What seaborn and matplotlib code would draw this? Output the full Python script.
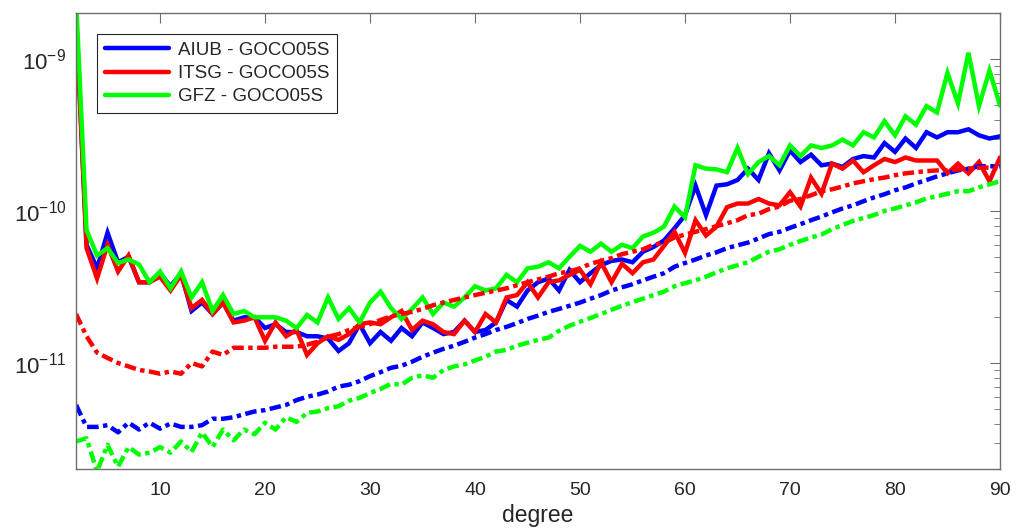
import numpy as np
import pandas as pd
import matplotlib
matplotlib.use("Agg")
import matplotlib.pyplot as plt
import seaborn as sns
from matplotlib.ticker import LogLocator, NullFormatter, FixedLocator

degrees = list(range(2, 91))

aiub_solid = [2.0e-9, 6.0e-11, 4.2e-11, 7.2e-11, 4.6e-11, 5.0e-11, 3.4e-11, 3.4e-11, 3.9e-11, 3.2e-11,
              3.9e-11, 2.2e-11, 2.5e-11, 2.1e-11, 2.5e-11, 1.9e-11, 2.0e-11, 2.0e-11, 1.7e-11, 1.8e-11,
              1.6e-11, 1.6e-11, 1.5e-11, 1.5e-11, 1.45e-11, 1.2e-11, 1.35e-11, 1.8e-11, 1.35e-11, 1.6e-11,
              1.4e-11, 1.7e-11, 1.5e-11, 1.85e-11, 1.7e-11, 1.55e-11, 1.6e-11, 1.9e-11, 1.6e-11, 1.65e-11,
              1.85e-11, 2.6e-11, 2.35e-11, 3.0e-11, 3.4e-11, 3.6e-11, 3.0e-11, 4.1e-11, 3.4e-11, 3.9e-11,
              4.4e-11, 4.7e-11, 4.8e-11, 4.6e-11, 5.4e-11, 5.8e-11, 6.4e-11, 7.7e-11, 9.4e-11, 1.47e-10,
              9.4e-11, 1.47e-10, 1.5e-10, 1.6e-10, 1.9e-10, 1.6e-10, 2.4e-10, 1.85e-10, 2.5e-10, 2.1e-10,
              2.35e-10, 2.0e-10, 2.05e-10, 1.95e-10, 2.2e-10, 2.3e-10, 2.25e-10, 2.8e-10, 2.45e-10, 3.0e-10,
              2.6e-10, 3.3e-10, 3.05e-10, 3.3e-10, 3.3e-10, 3.45e-10, 3.15e-10, 3.0e-10, 3.1e-10]

itsg_solid = [1.9e-9, 5.7e-11, 3.6e-11, 6.0e-11, 4.0e-11, 5.1e-11, 3.4e-11, 3.4e-11, 3.7e-11, 3.0e-11,
              3.8e-11, 2.3e-11, 2.6e-11, 2.1e-11, 2.5e-11, 1.85e-11, 1.9e-11, 2.0e-11, 1.4e-11, 1.85e-11,
              1.5e-11, 1.65e-11, 1.13e-11, 1.35e-11, 1.5e-11, 1.42e-11, 1.55e-11, 1.8e-11, 1.85e-11, 1.8e-11,
              2.0e-11, 2.2e-11, 1.65e-11, 1.9e-11, 1.8e-11, 1.6e-11, 1.55e-11, 1.9e-11, 1.6e-11, 2.1e-11,
              1.85e-11, 2.7e-11, 2.8e-11, 3.4e-11, 2.7e-11, 3.4e-11, 3.5e-11, 3.8e-11, 4.1e-11, 3.3e-11,
              4.6e-11, 3.4e-11, 4.5e-11, 3.9e-11, 4.6e-11, 4.8e-11, 5.9e-11, 7.3e-11, 5.3e-11, 8.7e-11,
              6.9e-11, 7.9e-11, 1.06e-10, 1.12e-10, 1.12e-10, 1.2e-10, 1.12e-10, 1.09e-10, 1.33e-10, 1.07e-10,
              1.66e-10, 1.3e-10, 2.05e-10, 1.9e-10, 2.15e-10, 1.8e-10, 2.0e-10, 2.2e-10, 2.1e-10, 2.25e-10,
              2.15e-10, 2.15e-10, 2.15e-10, 1.77e-10, 2.05e-10, 1.77e-10, 2.1e-10, 1.57e-10, 2.25e-10]

gfz_solid = [2.5e-9, 7.5e-11, 5.1e-11, 5.7e-11, 4.55e-11, 4.8e-11, 4.45e-11, 3.4e-11, 4.0e-11, 3.1e-11,
             4.0e-11, 2.7e-11, 3.4e-11, 2.2e-11, 2.8e-11, 2.1e-11, 2.2e-11, 2.0e-11, 2.0e-11, 2.0e-11,
             1.9e-11, 1.7e-11, 2.07e-11, 1.85e-11, 2.7e-11, 1.95e-11, 2.3e-11, 1.85e-11, 2.5e-11, 2.95e-11,
             2.3e-11, 1.95e-11, 2.27e-11, 2.7e-11, 2.1e-11, 2.5e-11, 2.35e-11, 2.7e-11, 3.2e-11, 3.0e-11,
             3.1e-11, 3.8e-11, 3.4e-11, 4.2e-11, 4.3e-11, 4.6e-11, 4.2e-11, 5.0e-11, 5.9e-11, 5.4e-11,
             6.1e-11, 5.4e-11, 6.0e-11, 5.7e-11, 6.8e-11, 7.2e-11, 7.9e-11, 1.07e-10, 9.1e-11, 2.0e-10,
             1.9e-10, 1.88e-10, 1.8e-10, 2.6e-10, 1.75e-10, 2.1e-10, 2.3e-10, 2.0e-10, 2.7e-10, 2.3e-10,
             2.7e-10, 2.6e-10, 2.7e-10, 2.95e-10, 2.7e-10, 3.3e-10, 3.05e-10, 3.9e-10, 3.15e-10, 4.2e-10,
             3.7e-10, 4.9e-10, 4.45e-10, 8.1e-10, 5.1e-10, 1.1e-9, 4.9e-10, 8.4e-10, 4.95e-10]

itsg_dash = [2.1e-11, 1.5e-11, 1.17e-11, 1.08e-11, 1.0e-11, 9.5e-12, 9.0e-12, 8.8e-12, 8.5e-12, 8.8e-12,
             8.5e-12, 1.0e-11, 9.5e-12, 1.19e-11, 1.13e-11, 1.26e-11, 1.26e-11, 1.26e-11, 1.26e-11, 1.28e-11,
             1.28e-11, 1.28e-11, 1.32e-11, 1.38e-11, 1.49e-11, 1.55e-11, 1.65e-11, 1.73e-11, 1.8e-11, 1.92e-11,
             2.03e-11, 2.1e-11, 2.17e-11, 2.27e-11, 2.4e-11, 2.5e-11, 2.6e-11, 2.7e-11, 2.8e-11, 2.9e-11,
             3.0e-11, 3.1e-11, 3.25e-11, 3.4e-11, 3.55e-11, 3.7e-11, 3.9e-11, 4.0e-11, 4.2e-11, 4.5e-11,
             4.7e-11, 4.9e-11, 5.2e-11, 5.4e-11, 5.6e-11, 6.0e-11, 6.2e-11, 6.7e-11, 7.0e-11, 7.3e-11,
             7.6e-11, 7.95e-11, 8.3e-11, 8.7e-11, 9.4e-11, 9.6e-11, 1.03e-10, 1.07e-10, 1.17e-10, 1.2e-10,
             1.27e-10, 1.35e-10, 1.39e-10, 1.45e-10, 1.52e-10, 1.57e-10, 1.62e-10, 1.66e-10, 1.72e-10, 1.77e-10,
             1.8e-10, 1.83e-10, 1.85e-10, 1.85e-10, 1.88e-10, 1.9e-10, 1.93e-10, 1.93e-10, 1.9e-10]

aiub_dash = [5.3e-12, 3.8e-12, 3.8e-12, 3.9e-12, 3.5e-12, 4.05e-12, 3.65e-12, 4.05e-12, 3.7e-12, 4.0e-12,
             3.8e-12, 3.8e-12, 3.9e-12, 4.3e-12, 4.3e-12, 4.4e-12, 4.6e-12, 4.8e-12, 4.9e-12, 5.1e-12,
             5.3e-12, 5.7e-12, 6.0e-12, 6.2e-12, 6.5e-12, 7.0e-12, 7.2e-12, 7.6e-12, 8.2e-12, 8.7e-12,
             9.3e-12, 9.6e-12, 1.02e-11, 1.1e-11, 1.17e-11, 1.24e-11, 1.3e-11, 1.38e-11, 1.47e-11, 1.55e-11,
             1.65e-11, 1.73e-11, 1.83e-11, 1.95e-11, 2.05e-11, 2.17e-11, 2.27e-11, 2.38e-11, 2.5e-11, 2.65e-11,
             2.8e-11, 3.0e-11, 3.15e-11, 3.3e-11, 3.5e-11, 3.7e-11, 3.9e-11, 4.3e-11, 4.55e-11, 4.8e-11,
             5.1e-11, 5.35e-11, 5.7e-11, 5.95e-11, 6.2e-11, 6.6e-11, 7.05e-11, 7.3e-11, 7.75e-11, 8.2e-11,
             8.7e-11, 9.2e-11, 9.8e-11, 1.04e-10, 1.09e-10, 1.16e-10, 1.23e-10, 1.29e-10, 1.37e-10, 1.43e-10,
             1.52e-10, 1.6e-10, 1.69e-10, 1.77e-10, 1.85e-10, 1.9e-10, 1.97e-10, 1.97e-10, 1.97e-10]

gfz_dash = [3.05e-12, 3.2e-12, 1.93e-12, 2.9e-12, 2.08e-12, 2.8e-12, 2.5e-12, 2.57e-12, 2.8e-12, 2.57e-12,
            3.05e-12, 2.6e-12, 3.5e-12, 2.8e-12, 3.65e-12, 3.1e-12, 3.65e-12, 3.4e-12, 4.05e-12, 3.65e-12,
            4.4e-12, 4.1e-12, 4.7e-12, 4.8e-12, 5.05e-12, 5.2e-12, 5.65e-12, 5.9e-12, 6.35e-12, 6.75e-12,
            7.3e-12, 7.2e-12, 8.0e-12, 8.3e-12, 8.0e-12, 9.0e-12, 9.5e-12, 9.8e-12, 1.04e-11, 1.1e-11,
            1.19e-11, 1.22e-11, 1.3e-11, 1.36e-11, 1.42e-11, 1.47e-11, 1.63e-11, 1.76e-11, 1.87e-11, 1.98e-11,
            2.1e-11, 2.24e-11, 2.38e-11, 2.52e-11, 2.65e-11, 2.8e-11, 2.95e-11, 3.2e-11, 3.35e-11, 3.5e-11,
            3.7e-11, 3.95e-11, 4.2e-11, 4.4e-11, 4.6e-11, 5.0e-11, 5.4e-11, 5.6e-11, 6.0e-11, 6.35e-11,
            6.7e-11, 7.0e-11, 7.6e-11, 8.1e-11, 8.6e-11, 9.0e-11, 9.4e-11, 1.0e-10, 1.04e-10, 1.09e-10,
            1.14e-10, 1.21e-10, 1.25e-10, 1.3e-10, 1.35e-10, 1.35e-10, 1.43e-10, 1.5e-10, 1.57e-10]

labels = ["AIUB - GOCO05S", "ITSG - GOCO05S", "GFZ - GOCO05S"]
colors = ["#0000ff", "#ff0000", "#00ff00"]
xticks = [10, 20, 30, 40, 50, 60, 70, 80, 90]
yticks = [1e-11, 1e-10, 1e-9]

sns.set_style("white")
plt.rcParams["font.family"] = ["Liberation Sans", "DejaVu Sans"]
plt.rcParams["mathtext.fontset"] = "custom"
plt.rcParams["mathtext.rm"] = "Liberation Sans"
plt.rcParams["mathtext.it"] = "Liberation Sans:italic"

fig = plt.figure(figsize=(10.18, 5.29), dpi=100)
ax = fig.add_axes([0.0747, 0.1129, 0.9076, 0.862])

solid_sets = [aiub_solid, itsg_solid, gfz_solid]
dash_sets = [aiub_dash, itsg_dash, gfz_dash]
dash_style = (0, (2.6, 1.0, 1.0, 1.0))

handles = []
for lab, col, ys in zip(labels, colors, solid_sets):
    df = pd.DataFrame({"degree": degrees, "value": ys})
    sns.lineplot(data=df, x="degree", y="value", ax=ax, color=col, lw=3.2,
                 legend=False, solid_joinstyle="miter")
    handles.append(ax.lines[-1])
for lab, col, ys in zip(labels, colors, dash_sets):
    df = pd.DataFrame({"degree": degrees, "value": ys})
    sns.lineplot(data=df, x="degree", y="value", ax=ax, color=col, lw=3.2,
                 legend=False, linestyle=dash_style)

ax.set_yscale("log")
ax.set_xlim(2, 90)
ax.set_ylim(2e-12, 2e-9)
ax.xaxis.set_major_locator(FixedLocator(xticks))
ax.yaxis.set_major_locator(FixedLocator(yticks))
ax.yaxis.set_minor_locator(LogLocator(base=10, subs=np.arange(2, 10), numticks=20))
ax.yaxis.set_minor_formatter(NullFormatter())

axcol = "#6e6e6e"
txtcol = "#262626"
for sp in ax.spines.values():
    sp.set_color(axcol)
    sp.set_linewidth(1.0)
ax.tick_params(axis="both", which="both", direction="in", top=True, right=True,
               colors=axcol, labelcolor=txtcol)
ax.tick_params(axis="x", which="major", length=7, pad=9, labelsize=14)
ax.tick_params(axis="y", which="major", length=7, pad=7, labelsize=16)
ax.tick_params(axis="y", which="minor", length=4)

ax.set_xlabel("degree", fontsize=16.5, color=txtcol, labelpad=4)
ax.set_ylabel("")

leg = ax.legend(handles=handles, labels=labels, loc="upper left",
                bbox_to_anchor=(0.0227, 0.955), borderaxespad=0, fontsize=13.5,
                frameon=True, fancybox=False, framealpha=1, edgecolor="#262626",
                handlelength=3.4, handletextpad=0.5, labelspacing=0.33,
                borderpad=0.42)
leg.get_frame().set_linewidth(0.8)

fig.savefig("out.png", dpi=100)
